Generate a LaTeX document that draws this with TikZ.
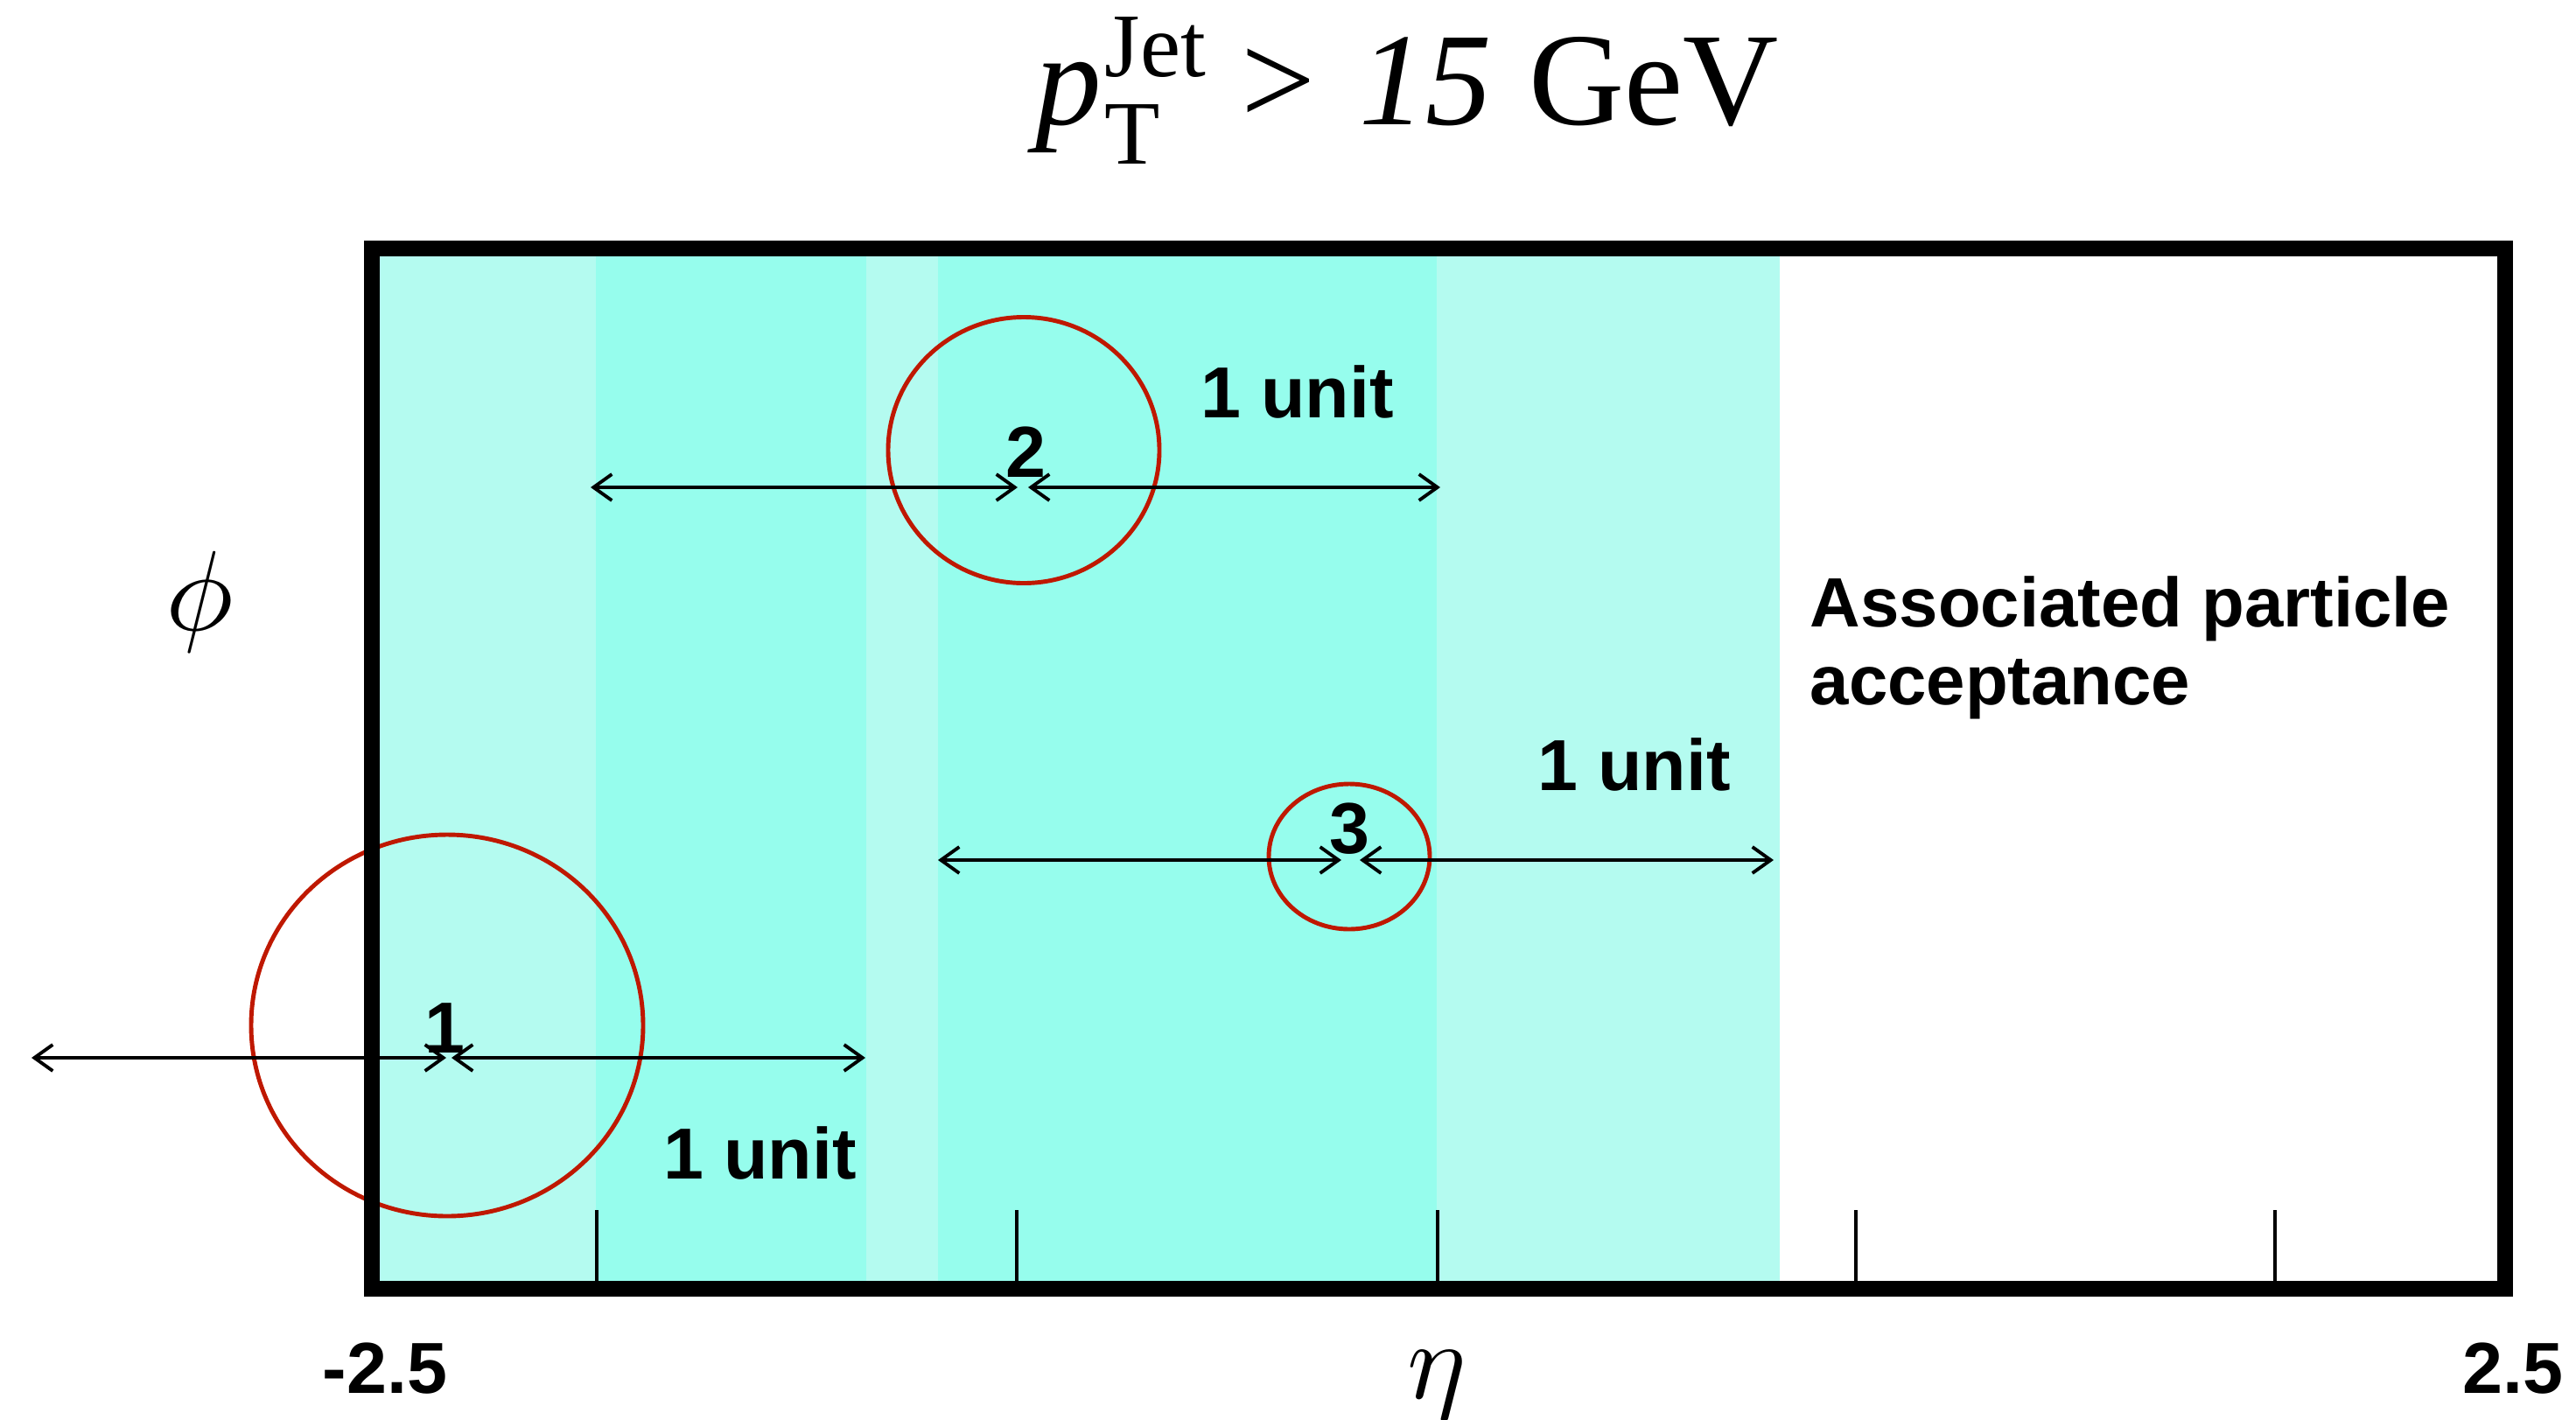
\documentclass[tikz,border=0pt]{standalone}
\usepackage{fontspec}
\setmainfont{Liberation Serif}
\newfontfamily\hv{Liberation Sans}
\usetikzlibrary{arrows.meta}
\definecolor{lightc}{RGB}{180,251,240}
\definecolor{darkc}{RGB}{150,253,237}
\definecolor{jetred}{RGB}{191,24,0}
\begin{document}
\begin{tikzpicture}[x=1cm,y=1cm,
  lab/.style={font=\fontsize{23.5}{28}\selectfont\hv\bfseries, inner sep=0pt, anchor=base},
  acclab/.style={font=\fontsize{22.7}{27}\selectfont\hv\bfseries, inner sep=0pt, anchor=base west},
  dbl/.style={line width=1.1pt, {Straight Barb[length=0.21cm,width=0.3cm]}-{Straight Barb[length=0.21cm,width=0.3cm]}},
  jetcone/.style={draw=jetred, line width=1.4pt},
  tick/.style={line width=0.9pt}]
\useasboundingbox (0,0) rectangle (29.44,-16.22);
% bands
\fill[lightc] (4.25,-2.84) rectangle (6.81,-14.73);
\fill[darkc] (6.81,-2.84) rectangle (9.90,-14.73);
\fill[lightc] (9.90,-2.84) rectangle (10.72,-14.73);
\fill[darkc] (10.72,-2.84) rectangle (16.42,-14.73);
\fill[lightc] (16.42,-2.84) rectangle (20.34,-14.73);
% ticks
\foreach \t in {6.82,11.62,16.43,21.21,26.00}
  \draw[tick] (\t,-13.83) -- (\t,-14.64);
% jet cones
\coordinate (c1) at (5.11,-11.72);
\coordinate (c2) at (11.70,-5.145);
\coordinate (c3) at (15.42,-9.79);
\draw[jetcone] (c1) ellipse [x radius=2.24, y radius=2.18];
\draw[jetcone] (c2) ellipse [x radius=1.55, y radius=1.52];
\draw[jetcone] (c3) ellipse [x radius=0.92, y radius=0.83];
% arrows
\coordinate (a1l) at (0.36,-12.09);
\coordinate (a1m) at (5.10,-12.09);
\coordinate (a1n) at (5.16,-12.09);
\coordinate (a1r) at (9.89,-12.09);
\coordinate (a2l) at (6.75,-5.57);
\coordinate (a2m) at (11.63,-5.57);
\coordinate (a2n) at (11.75,-5.57);
\coordinate (a2r) at (16.46,-5.57);
\coordinate (a3l) at (10.72,-9.83);
\coordinate (a3m) at (15.33,-9.83);
\coordinate (a3n) at (15.54,-9.83);
\coordinate (a3r) at (20.27,-9.83);
\draw[dbl] (a1l) -- (a1m);
\draw[dbl] (a1n) -- (a1r);
\draw[dbl] (a2l) -- (a2m);
\draw[dbl] (a2n) -- (a2r);
\draw[dbl] (a3l) -- (a3m);
\draw[dbl] (a3n) -- (a3r);
% frame
\draw[line width=0.18cm] (4.25,-2.84) rectangle (28.63,-14.73);
% labels
\node[lab] (n1) at (5.08,-12.03) {1};
\node[lab] (n2) at (11.72,-5.45) {2};
\node[lab] (n3) at (15.42,-9.75) {3};
\node[lab, anchor=base west] (u1) at (7.58,-13.47) {1 unit};
\node[lab, anchor=base west] (u2) at (13.72,-4.77) {1 unit};
\node[lab, anchor=base west] (u3) at (17.57,-9.03) {1 unit};
\node[acclab] (acc1) at (20.68,-7.16) {Associated particle};
\node[acclab] (acc2) at (20.68,-8.05) {acceptance};
\node[lab] (lo) at (4.40,-15.92) {-2.5};
\node[lab] (hi) at (28.72,-15.92) {2.5};
\node[inner sep=0pt, scale=3.7] (phi) at (2.28,-6.88) {$\phi$};
\node[inner sep=0pt, anchor=base, scale=3.6] (eta) at (16.42,-15.98) {$\eta$};
\node[inner sep=0pt, anchor=base west] (title) at (11.83,-1.42)
  {\fontsize{43}{48}\selectfont\textit{p}\kern1pt\rlap{\raisebox{-0.45cm}{\fontsize{29.5}{30}\selectfont T}}\raisebox{0.55cm}{\fontsize{29.5}{30}\selectfont Jet}\hspace{0.27em}>\hspace{0.33em}\textit{15}\hspace{0.28em}GeV};
\end{tikzpicture}
\end{document}
